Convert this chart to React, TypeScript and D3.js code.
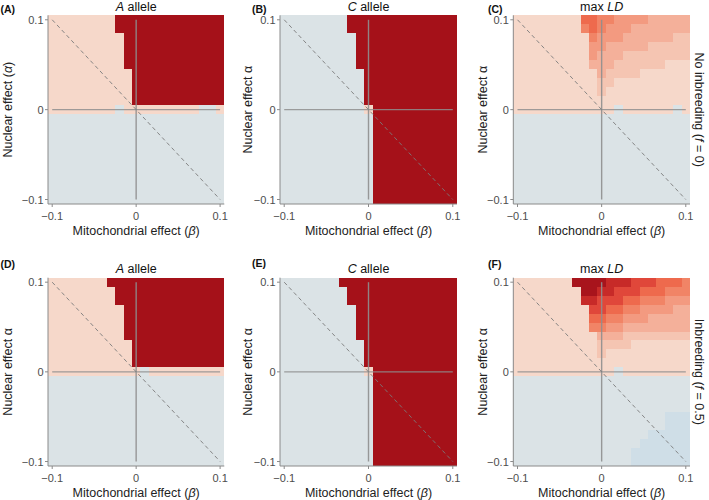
import React from "react";
import * as d3 from "d3";

// ---- grid coordinates (cell centres) ----
const betaValues = [-0.1, -0.09, -0.08, -0.07, -0.06, -0.05, -0.04, -0.03, -0.02, -0.01, 0, 0.01, 0.02, 0.03, 0.04, 0.05, 0.06, 0.07, 0.08, 0.09, 0.1];
const alphaValues = [0.1, 0.09, 0.08, 0.07, 0.06, 0.05, 0.04, 0.03, 0.02, 0.01, 0, -0.01, -0.02, -0.03, -0.04, -0.05, -0.06, -0.07, -0.08, -0.09, -0.1];
const axisTicks = [-0.1, 0, 0.1];
const axisTickLabels = ["\u22120.1", "0", "0.1"];

// ---- A allele, no inbreeding (b = decrease, p = small increase, r = fixation) ----
const gridA = [
  "pppppppprrrrrrrrrrrrr",
  "pppppppprrrrrrrrrrrrr",
  "ppppppppprrrrrrrrrrrr",
  "ppppppppprrrrrrrrrrrr",
  "ppppppppprrrrrrrrrrrr",
  "ppppppppprrrrrrrrrrrr",
  "pppppppppprrrrrrrrrrr",
  "pppppppppprrrrrrrrrrr",
  "pppppppppprrrrrrrrrrr",
  "pppppppppprrrrrrrrrrr",
  "ppppppppbpppppppppbbp",
  "bbbbbbbbbbbbbbbbbbbbb",
  "bbbbbbbbbbbbbbbbbbbbb",
  "bbbbbbbbbbbbbbbbbbbbb",
  "bbbbbbbbbbbbbbbbbbbbb",
  "bbbbbbbbbbbbbbbbbbbbb",
  "bbbbbbbbbbbbbbbbbbbbb",
  "bbbbbbbbbbbbbbbbbbbbb",
  "bbbbbbbbbbbbbbbbbbbbb",
  "bbbbbbbbbbbbbbbbbbbbb",
  "bbbbbbbbbbbbbbbbbbbbb",
];

// ---- C allele, no inbreeding ----
const gridB = [
  "bbbbbbbbrrrrrrrrrrrrr",
  "bbbbbbbbrrrrrrrrrrrrr",
  "bbbbbbbbbrrrrrrrrrrrr",
  "bbbbbbbbbrrrrrrrrrrrr",
  "bbbbbbbbbrrrrrrrrrrrr",
  "bbbbbbbbbrrrrrrrrrrrr",
  "bbbbbbbbbbrrrrrrrrrrr",
  "bbbbbbbbbbrrrrrrrrrrr",
  "bbbbbbbbbbrrrrrrrrrrr",
  "bbbbbbbbbbrrrrrrrrrrr",
  "bbbbbbbbbbprrrrrrrrrr",
  "bbbbbbbbbbbrrrrrrrrrr",
  "bbbbbbbbbbbrrrrrrrrrr",
  "bbbbbbbbbbbrrrrrrrrrr",
  "bbbbbbbbbbbrrrrrrrrrr",
  "bbbbbbbbbbbrrrrrrrrrr",
  "bbbbbbbbbbbrrrrrrrrrr",
  "bbbbbbbbbbbrrrrrrrrrr",
  "bbbbbbbbbbbrrrrrrrrrr",
  "bbbbbbbbbbbrrrrrrrrrr",
  "bbbbbbbbbbbrrrrrrrrrr",
];

// ---- max LD, no inbreeding (0 = none, 1 = trace, 2..9 = increasing LD) ----
const gridC = [
  "111111116655444433333",
  "111111115654443333333",
  "111111111544433333322",
  "111111111443333322222",
  "111111111433322222222",
  "111111111333222222111",
  "111111111132222111111",
  "111111111122111111111",
  "111111111121111111111",
  "111111111111111111111",
  "111111111111011111101",
  "000000000000000000000",
  "000000000000000000000",
  "000000000000000000000",
  "000000000000000000000",
  "000000000000000000000",
  "000000000000000000000",
  "000000000000000000000",
  "000000000000000000000",
  "000000000000000000000",
  "000000000000000000000",
];

// ---- A allele, inbreeding f = 0.5 ----
const gridD = [
  "ppppppprrrrrrrrrrrrrr",
  "pppppppprrrrrrrrrrrrr",
  "pppppppprrrrrrrrrrrrr",
  "ppppppppprrrrrrrrrrrr",
  "ppppppppprrrrrrrrrrrr",
  "ppppppppprrrrrrrrrrrr",
  "ppppppppprrrrrrrrrrrr",
  "pppppppppprrrrrrrrrrr",
  "pppppppppprrrrrrrrrrr",
  "pppppppppprrrrrrrrrrr",
  "pppppppppppbppppppppp",
  "bbbbbbbbbbbbbbbbbbbbb",
  "bbbbbbbbbbbbbbbbbbbbb",
  "bbbbbbbbbbbbbbbbbbbbb",
  "bbbbbbbbbbbbbbbbbbbbb",
  "bbbbbbbbbbbbbbbbbbbbb",
  "bbbbbbbbbbbbbbbbbbbbb",
  "bbbbbbbbbbbbbbbbbbbbb",
  "bbbbbbbbbbbbbbbbbbbbb",
  "bbbbbbbbbbbbbbbbbbbbb",
  "bbbbbbbbbbbbbbbbbbbbb",
];

// ---- C allele, inbreeding f = 0.5 ----
const gridE = [
  "bbbbbbbrrrrrrrrrrrrrr",
  "bbbbbbbbrrrrrrrrrrrrr",
  "bbbbbbbbrrrrrrrrrrrrr",
  "bbbbbbbbbrrrrrrrrrrrr",
  "bbbbbbbbbrrrrrrrrrrrr",
  "bbbbbbbbbrrrrrrrrrrrr",
  "bbbbbbbbbrrrrrrrrrrrr",
  "bbbbbbbbbbrrrrrrrrrrr",
  "bbbbbbbbbbrrrrrrrrrrr",
  "bbbbbbbbbbrrrrrrrrrrr",
  "bbbbbbbbbbprrrrrrrrrr",
  "bbbbbbbbbbbrrrrrrrrrr",
  "bbbbbbbbbbbrrrrrrrrrr",
  "bbbbbbbbbbbrrrrrrrrrr",
  "bbbbbbbbbbbrrrrrrrrrr",
  "bbbbbbbbbbbrrrrrrrrrr",
  "bbbbbbbbbbbrrrrrrrrrr",
  "bbbbbbbbbbbrrrrrrrrrr",
  "bbbbbbbbbbbrrrrrrrrrr",
  "bbbbbbbbbbbrrrrrrrrrr",
  "bbbbbbbbbbbrrrrrrrrrr",
];

// ---- max LD, inbreeding f = 0.5 (a = slightly negative) ----
const gridF = [
  "111111199998887776665",
  "111111119988777666555",
  "111111118877766555444",
  "111111111776655444433",
  "111111111665544433333",
  "111111111554433333333",
  "111111111133322222222",
  "111111111122221111111",
  "111111111121111111111",
  "111111111111111111111",
  "111111111111011111111",
  "000000000000000000000",
  "000000000000000000000",
  "000000000000000000000",
  "000000000000000000000",
  "000000000000000000aaa",
  "000000000000000000aaa",
  "0000000000000000aaaaa",
  "000000000000000aaaaaa",
  "00000000000000aaaaaaa",
  "00000000000000aaaaaaa",
];

const cellColors: Record<string, string> = {
  b: "#DBE3E6",
  p: "#F6D8CA",
  r: "#A51119",
  "0": "#DBE3E6",
  a: "#CFDEE7",
  "1": "#F6D8CA",
  "2": "#F5C5B2",
  "3": "#F4B09A",
  "4": "#F39A80",
  "5": "#F18466",
  "6": "#EE6A4D",
  "7": "#E0473A",
  "8": "#C72A28",
  "9": "#A8141C",
};

const columnsX: [number, number][] = [[48, 224.3], [280, 457], [513.3, 690]];
const rowsY: [number, number][] = [[15.3, 204], [277.7, 466]];

const FONT = "'Liberation Sans', Arial, Helvetica, sans-serif";

type PanelSpec = {
  letter: string;
  grid: string[];
  col: number;
  row: number;
  title: "A" | "C" | "LD";
  yParen: boolean;
  letterX: number;
  letterY: number;
  yTitleX: number;
};

const panels: PanelSpec[] = [
  { letter: "(A)", grid: gridA, col: 0, row: 0, title: "A", yParen: true, letterX: 0.5, letterY: 8.5, yTitleX: 8 },
  { letter: "(B)", grid: gridB, col: 1, row: 0, title: "C", yParen: false, letterX: 252, letterY: 8.5, yTitleX: 248 },
  { letter: "(C)", grid: gridC, col: 2, row: 0, title: "LD", yParen: false, letterX: 488, letterY: 8.5, yTitleX: 483 },
  { letter: "(D)", grid: gridD, col: 0, row: 1, title: "A", yParen: false, letterX: 0.5, letterY: 264, yTitleX: 8 },
  { letter: "(E)", grid: gridE, col: 1, row: 1, title: "C", yParen: false, letterX: 252, letterY: 263, yTitleX: 248 },
  { letter: "(F)", grid: gridF, col: 2, row: 1, title: "LD", yParen: false, letterX: 488, letterY: 264, yTitleX: 483 },
];

function Panel({ p }: { p: PanelSpec }) {
  const [x0, x1] = columnsX[p.col];
  const [y0, y1] = rowsY[p.row];
  const x = d3.scaleLinear().domain([-0.105, 0.105]).range([x0, x1]);
  const y = d3.scaleLinear().domain([-0.105, 0.105]).range([y1, y0]);
  const half = 0.005;
  const lineGray = "#8f8f8f";
  const cx = (x0 + x1) / 2;
  const cy = (y0 + y1) / 2;

  return (
    <g>
      {p.grid.map((rowStr, j) =>
        rowStr.split("").map((c, k) => {
          const bx = betaValues[k];
          const ay = alphaValues[j];
          const rx = x(bx - half);
          const ry = y(ay + half);
          return (
            <rect
              key={`${j}-${k}`}
              x={rx}
              y={ry}
              width={x(bx + half) - rx}
              height={y(ay - half) - ry}
              fill={cellColors[c]}
              shapeRendering="crispEdges"
            />
          );
        })
      )}
      {/* zero lines */}
      <line x1={x(0)} x2={x(0)} y1={y(0.1)} y2={y(-0.1)} stroke={lineGray} strokeWidth={1.4} opacity={0.9} />
      <line x1={x(-0.1)} x2={x(0.1)} y1={y(0)} y2={y(0)} stroke={lineGray} strokeWidth={1.4} opacity={0.85} />
      {/* diagonal */}
      <line x1={x(-0.1)} y1={y(0.1)} x2={x(0.1)} y2={y(-0.1)} stroke="#7a7a7a" strokeWidth={0.9} strokeDasharray="4 3" />
      {/* axes */}
      <line x1={x0} x2={x0} y1={y0} y2={y1} stroke="#8a8a8a" strokeWidth={1} />
      <line x1={x0} x2={x1} y1={y1} y2={y1} stroke="#8a8a8a" strokeWidth={1} />
      {axisTicks.map((t, i) => (
        <g key={"xt" + i}>
          <line x1={x(t)} x2={x(t)} y1={y1} y2={y1 + 3} stroke="#8a8a8a" />
          <text x={x(t)} y={y1 + 11.5} fontSize={11} fill="#4d4d4d" textAnchor="middle" dominantBaseline="central" fontFamily={FONT}>
            {axisTickLabels[i]}
          </text>
        </g>
      ))}
      {axisTicks.map((t, i) => (
        <g key={"yt" + i}>
          <line x1={x0 - 3} x2={x0} y1={y(t)} y2={y(t)} stroke="#8a8a8a" />
          <text x={x0 - 4.5} y={y(t)} fontSize={11} fill="#4d4d4d" textAnchor="end" dominantBaseline="central" fontFamily={FONT}>
            {axisTickLabels[i]}
          </text>
        </g>
      ))}
      {/* x title */}
      <text x={cx} y={y1 + 26.5} fontSize={12.5} fill="#222" textAnchor="middle" dominantBaseline="central" fontFamily={FONT}>
        Mitochondrial effect (<tspan fontStyle="italic">β</tspan>)
      </text>
      {/* y title */}
      <text
        transform={`translate(${p.yTitleX},${cy}) rotate(-90)`}
        fontSize={12.5}
        fill="#222"
        textAnchor="middle"
        dominantBaseline="central"
        fontFamily={FONT}
      >
        {p.yParen ? (
          <>Nuclear effect (<tspan fontStyle="italic">α</tspan>)</>
        ) : (
          <>Nuclear effect α</>
        )}
      </text>
      {/* panel title */}
      <text x={cx} y={y0 - 8.5} fontSize={12.5} fill="#111" textAnchor="middle" dominantBaseline="central" fontFamily={FONT}>
        {p.title === "A" && (<><tspan fontStyle="italic">A</tspan> allele</>)}
        {p.title === "C" && (<><tspan fontStyle="italic">C</tspan> allele</>)}
        {p.title === "LD" && (<>max <tspan fontStyle="italic">LD</tspan></>)}
      </text>
      {/* panel letter */}
      <text x={p.letterX} y={p.letterY} fontSize={10.5} fontWeight="bold" fill="#111" textAnchor="start" dominantBaseline="central" fontFamily={FONT}>
        {p.letter}
      </text>
    </g>
  );
}

export default function App() {
  const stripX = 699;
  return (
    <svg width={709} height={500} style={{ position: "absolute", left: 0, top: 0, background: "#fff" }}>
      <rect width={709} height={500} fill="#fff" />
      {panels.map((p) => (
        <Panel key={p.letter} p={p} />
      ))}
      <text
        transform={`translate(${stripX},${(rowsY[0][0] + rowsY[0][1]) / 2}) rotate(90)`}
        fontSize={12.5}
        fill="#222"
        textAnchor="middle"
        dominantBaseline="central"
        fontFamily={FONT}
      >
        No inbreeding (<tspan fontStyle="italic">f</tspan> = 0)
      </text>
      <text
        transform={`translate(${stripX},${(rowsY[1][0] + rowsY[1][1]) / 2}) rotate(90)`}
        fontSize={12.5}
        fill="#222"
        textAnchor="middle"
        dominantBaseline="central"
        fontFamily={FONT}
      >
        Inbreeding (<tspan fontStyle="italic">f</tspan> = 0.5)
      </text>
    </svg>
  );
}
